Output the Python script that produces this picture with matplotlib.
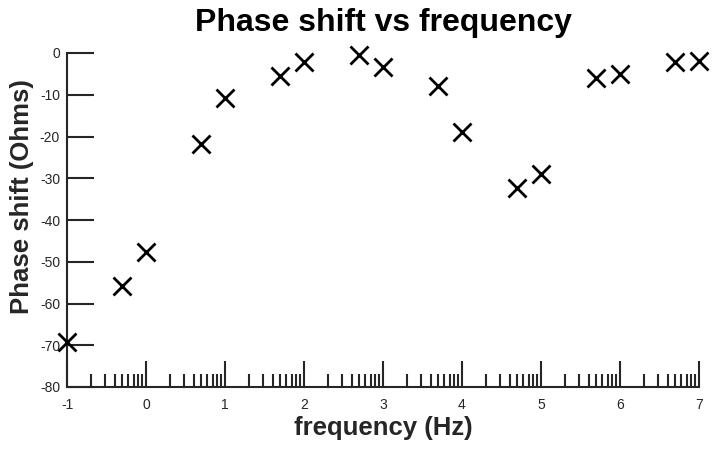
import numpy as np
import matplotlib.pyplot as plt
from matplotlib.ticker import FixedLocator

plt.rcParams['font.family'] = ['Liberation Sans', 'DejaVu Sans']
plt.rcParams['axes.unicode_minus'] = False

# frequencies (Hz) and measured phase shift
freq = [0.1, 0.5, 1, 5, 10, 50, 100, 500, 1e3, 5e3, 1e4, 5e4, 1e5, 5e5, 1e6, 5e6, 1e7]
phase = [-69.2, -55.8, -47.7, -21.7, -10.8, -5.5, -2.2, -0.5, -3.4, -7.9, -19.0,
         -32.4, -29.0, -6.1, -5.1, -2.2, -1.8]

yticks = [0, -10, -20, -30, -40, -50, -60, -70, -80]
xticks = [-1, 0, 1, 2, 3, 4, 5, 6, 7]

x = np.log10(freq)

fig = plt.figure(figsize=(7.12, 4.49), dpi=100)
ax = fig.add_axes([67 / 712, 1 - 387 / 449, 632 / 712, 334 / 449])

ax.plot(x, phase, 'x', color='black', markersize=13, markeredgewidth=2, clip_on=False, zorder=5)

ax.set_xlim(-1, 7)
ax.set_ylim(-80, 0)
ax.set_xticks(xticks)
ax.set_xticklabels([str(v) for v in xticks])
ax.set_yticks(yticks)
ax.set_yticklabels([str(v) for v in yticks])

# log style minor ticks between decades
minor = [n + np.log10(k) for n in range(-1, 7) for k in range(2, 10)]
ax.xaxis.set_minor_locator(FixedLocator(minor))

axcol = '#262626'
for s in ['top', 'right']:
    ax.spines[s].set_visible(False)
for s in ['left', 'bottom']:
    ax.spines[s].set_color(axcol)
    ax.spines[s].set_linewidth(1.5)

ax.tick_params(axis='y', direction='in', length=19.5, width=1.5, colors=axcol,
               labelsize=10, pad=5)
ax.tick_params(axis='x', which='major', direction='in', length=19, width=1.5,
               colors=axcol, labelsize=10, pad=8)
ax.tick_params(axis='x', which='minor', direction='in', length=9.5, width=1.5,
               colors=axcol)

ax.set_title('Phase shift vs frequency', fontsize=23, fontweight='bold', pad=16)
ax.set_xlabel('frequency (Hz)', fontsize=18.5, fontweight='bold', color=axcol, labelpad=3)
ax.set_ylabel('Phase shift (Ohms)', fontsize=18.5, fontweight='bold', color=axcol)
ax.yaxis.set_label_coords(-0.053, 0.57)

fig.savefig('out.png', dpi=100)
